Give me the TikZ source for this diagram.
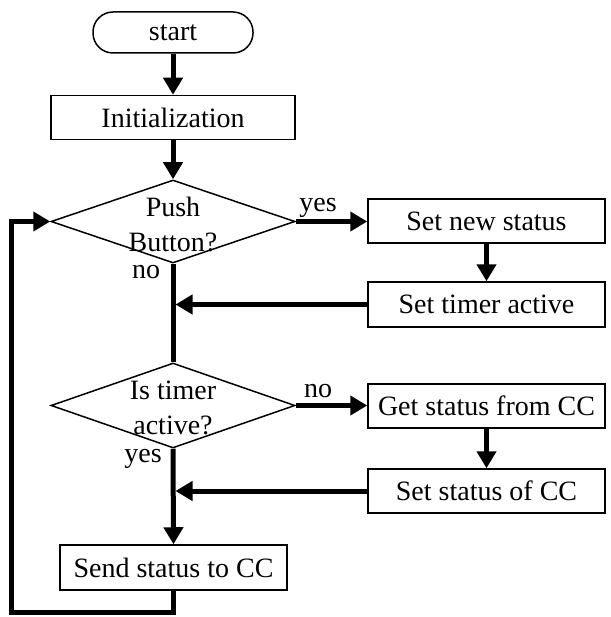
\documentclass[tikz,border=0pt]{standalone}
\usepackage{fontspec}
\setmainfont{Liberation Serif}
\usetikzlibrary{arrows.meta,shapes.geometric}
\begin{document}
\begin{tikzpicture}[x=1pt,y=-1pt,
  every node/.style={font=\fontsize{28}{35}\selectfont},
  box/.style={draw, line width=1.5pt, minimum width=#1, minimum height=44pt, inner sep=0pt},
  dia/.style={draw, diamond, line width=1.5pt, minimum width=244pt, minimum height=#1, inner sep=0pt},
  dtext/.style={align=center, inner sep=0pt},
  lbl/.style={anchor=base, inner sep=0pt, text height=13pt, text depth=0pt},
  flow/.style={line width=5pt},
  flowarr/.style={line width=5pt, -{Triangle[length=17pt,width=19pt]}}
]
\useasboundingbox (0,0) rectangle (610,617);

\node[draw, line width=1.5pt, rounded corners=20pt, minimum width=160pt, minimum height=41pt, inner sep=0pt] (start) at (173,32.5) {start};
\node[box=244pt] (init) at (173,117.5) {Initialization};
\node[dia=83pt] (d1) at (173,221.5) {};
\node[dtext] (t1) at (173,224) {Push\\Button?};
\node[box=237pt] (sns) at (486.5,221) {Set new status};
\node[box=237pt, minimum height=45pt] (sta) at (486.5,304.5) {Set timer active};
\node[dia=85pt] (d2) at (173,405.5) {};
\node[dtext] (t2) at (173,408) {Is timer\\active?};
\node[box=237pt] (gs) at (486.5,406) {Get status from CC};
\node[box=237pt] (ssc) at (486.5,491) {Set status of CC};
\node[box=227pt, minimum height=45pt] (send) at (173.5,567.5) {Send status to CC};

\node[lbl] (lyes1) at (318,212) {yes};
\node[lbl] (lno1) at (146,278) {no};
\node[lbl] (lno2) at (318,397) {no};
\node[lbl] (lyes2) at (143,462) {yes};

\coordinate (lb) at (11,612);

\draw[flowarr] (start) -- (init);
\draw[flowarr] (init) -- (d1);
\draw[flowarr] (d1.east) -- (d1.east -| sns.west);
\draw[flowarr] (sns) -- (sta);
\draw[flow] (d1.south) -- (d2.north);
\draw[flowarr, shorten >=2.5pt] (sta.west) -- (sta.west -| d1.south);
\draw[flowarr] (d2.east) -- (d2.east -| gs.west);
\draw[flowarr] (gs) -- (ssc);
\draw[flowarr, shorten >=2.5pt] (ssc.west) -- (ssc.west -| d2.south);
\draw[flowarr] (d2.south) -- (send.north);
\draw[flowarr] (send.south) |- (lb) |- (d1.west);
\end{tikzpicture}
\end{document}
